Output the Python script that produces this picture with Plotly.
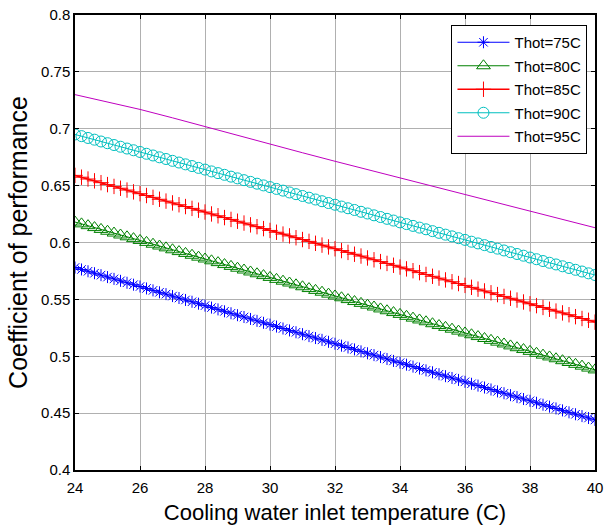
import plotly.graph_objects as go

# Cooling water inlet temperature (C)
x_temp = [24 + 0.2 * k for k in range(81)]
x_temp95 = [24, 25, 26, 27, 28, 29, 30, 31, 32, 33, 34, 35, 36, 37, 38, 39, 40]

cop_75 = [0.5780, 0.5763, 0.5747, 0.5730, 0.5713, 0.5696, 0.5680, 0.5663, 0.5646, 0.5629,
          0.5613, 0.5596, 0.5579, 0.5562, 0.5546, 0.5529, 0.5512, 0.5495, 0.5479, 0.5462,
          0.5445, 0.5428, 0.5412, 0.5395, 0.5378, 0.5361, 0.5345, 0.5328, 0.5311, 0.5294,
          0.5278, 0.5261, 0.5244, 0.5227, 0.5211, 0.5194, 0.5177, 0.5160, 0.5144, 0.5127,
          0.5110, 0.5093, 0.5077, 0.5060, 0.5043, 0.5026, 0.5010, 0.4993, 0.4976, 0.4959,
          0.4943, 0.4926, 0.4909, 0.4892, 0.4876, 0.4859, 0.4842, 0.4825, 0.4809, 0.4792,
          0.4775, 0.4758, 0.4742, 0.4725, 0.4708, 0.4691, 0.4675, 0.4658, 0.4641, 0.4624,
          0.4608, 0.4591, 0.4574, 0.4557, 0.4541, 0.4524, 0.4507, 0.4490, 0.4474, 0.4457,
          0.4440]

cop_80 = [0.6180, 0.6164, 0.6148, 0.6131, 0.6115, 0.6099, 0.6083, 0.6066, 0.6050, 0.6034,
          0.6018, 0.6001, 0.5985, 0.5969, 0.5953, 0.5936, 0.5920, 0.5904, 0.5888, 0.5871,
          0.5855, 0.5839, 0.5823, 0.5806, 0.5790, 0.5774, 0.5758, 0.5741, 0.5725, 0.5709,
          0.5693, 0.5676, 0.5660, 0.5644, 0.5628, 0.5611, 0.5595, 0.5579, 0.5563, 0.5546,
          0.5530, 0.5514, 0.5498, 0.5481, 0.5465, 0.5449, 0.5433, 0.5416, 0.5400, 0.5384,
          0.5368, 0.5351, 0.5335, 0.5319, 0.5303, 0.5286, 0.5270, 0.5254, 0.5238, 0.5221,
          0.5205, 0.5189, 0.5173, 0.5156, 0.5140, 0.5124, 0.5108, 0.5091, 0.5075, 0.5059,
          0.5043, 0.5026, 0.5010, 0.4994, 0.4978, 0.4961, 0.4945, 0.4929, 0.4913, 0.4896,
          0.4880]

cop_85 = [0.6590, 0.6574, 0.6558, 0.6542, 0.6526, 0.6509, 0.6493, 0.6477, 0.6461, 0.6445,
          0.6429, 0.6413, 0.6397, 0.6380, 0.6364, 0.6348, 0.6332, 0.6316, 0.6300, 0.6284,
          0.6268, 0.6251, 0.6235, 0.6219, 0.6203, 0.6187, 0.6171, 0.6155, 0.6139, 0.6122,
          0.6106, 0.6090, 0.6074, 0.6058, 0.6042, 0.6026, 0.6010, 0.5993, 0.5977, 0.5961,
          0.5945, 0.5929, 0.5913, 0.5897, 0.5881, 0.5864, 0.5848, 0.5832, 0.5816, 0.5800,
          0.5784, 0.5768, 0.5752, 0.5735, 0.5719, 0.5703, 0.5687, 0.5671, 0.5655, 0.5639,
          0.5623, 0.5606, 0.5590, 0.5574, 0.5558, 0.5542, 0.5526, 0.5510, 0.5494, 0.5477,
          0.5461, 0.5445, 0.5429, 0.5413, 0.5397, 0.5381, 0.5365, 0.5348, 0.5332, 0.5316,
          0.5300]

cop_90 = [0.6950, 0.6935, 0.6919, 0.6904, 0.6888, 0.6873, 0.6857, 0.6842, 0.6826, 0.6811,
          0.6796, 0.6780, 0.6765, 0.6749, 0.6734, 0.6718, 0.6703, 0.6687, 0.6672, 0.6656,
          0.6641, 0.6625, 0.6610, 0.6595, 0.6579, 0.6564, 0.6548, 0.6533, 0.6517, 0.6502,
          0.6487, 0.6471, 0.6456, 0.6440, 0.6425, 0.6409, 0.6394, 0.6378, 0.6363, 0.6347,
          0.6332, 0.6316, 0.6301, 0.6286, 0.6270, 0.6255, 0.6239, 0.6224, 0.6208, 0.6193,
          0.6177, 0.6162, 0.6146, 0.6131, 0.6116, 0.6100, 0.6085, 0.6069, 0.6054, 0.6038,
          0.6023, 0.6007, 0.5992, 0.5977, 0.5961, 0.5946, 0.5930, 0.5915, 0.5899, 0.5884,
          0.5868, 0.5853, 0.5837, 0.5822, 0.5807, 0.5791, 0.5776, 0.5760, 0.5745, 0.5729,
          0.5714]

cop_95 = [0.7300, 0.7236, 0.7170, 0.7096, 0.7018, 0.6942, 0.6864, 0.6789, 0.6714, 0.6641,
          0.6568, 0.6496, 0.6424, 0.6350, 0.6277, 0.6203, 0.6130]

series_names = ["Thot=75C", "Thot=80C", "Thot=85C", "Thot=90C", "Thot=95C"]
x_ticks = [24, 26, 28, 30, 32, 34, 36, 38, 40]
y_ticks = [0.4, 0.45, 0.5, 0.55, 0.6, 0.65, 0.7, 0.75, 0.8]

FONT = "Liberation Sans, Arial, sans-serif"

fig = go.Figure()

fig.add_trace(go.Scatter(
    x=x_temp, y=cop_75, name=series_names[0], mode="lines+markers", legendgroup="a",
    line=dict(color="#0000ff", width=1),
    marker=dict(symbol="asterisk-open", size=10, color="#0000ff", line=dict(color="#0000ff", width=1))))
fig.add_trace(go.Scatter(
    x=x_temp, y=cop_80, name=series_names[1], mode="lines+markers", legendgroup="b",
    line=dict(color="#008000", width=1),
    marker=dict(symbol="triangle-up-open", size=12, color="#008000", line=dict(color="#008000", width=1))))
fig.add_trace(go.Scatter(
    x=x_temp, y=cop_85, name=series_names[2], mode="lines+markers", legendgroup="c",
    line=dict(color="#ff0000", width=1.5),
    marker=dict(symbol="cross-thin-open", size=11, color="#ff0000", line=dict(color="#ff0000", width=1))))
fig.add_trace(go.Scatter(
    x=x_temp, y=cop_90, name=series_names[3], mode="lines+markers", legendgroup="d",
    line=dict(color="#00bfbf", width=1),
    marker=dict(symbol="circle-open", size=11, color="#00bfbf", line=dict(color="#00bfbf", width=1))))
fig.add_trace(go.Scatter(
    x=x_temp95, y=cop_95, name=series_names[4], mode="lines", legendgroup="e",
    line=dict(color="#bf00bf", width=1)))

axis_common = dict(
    showline=True, linecolor="black", linewidth=1.5, mirror="ticks",
    ticks="inside", ticklen=4, tickcolor="black", tickwidth=1,
    showgrid=True, gridcolor="#b0b0b0", gridwidth=1, zeroline=False,
    tickfont=dict(family=FONT, size=15, color="black"),
    automargin=False, ticklabeloverflow="allow",
)

fig.update_xaxes(range=[24, 40], tickvals=x_ticks, ticklabelstandoff=3,
                 title=dict(text="Cooling water inlet temperature (C)",
                            font=dict(family=FONT, size=22, color="black"), standoff=10),
                 **axis_common)
fig.update_yaxes(range=[0.4, 0.8], tickvals=y_ticks, ticktext=[f"{v:g}" for v in y_ticks],
                 title=dict(text="Coefficient of performance",
                            font=dict(family=FONT, size=25, color="black"), standoff=6),
                 **axis_common)

fig.update_layout(
    width=604, height=526,
    margin=dict(l=75, r=9, t=15, b=56),
    paper_bgcolor="white", plot_bgcolor="white",
    font=dict(family=FONT, size=15, color="black"),
    showlegend=True,
    legend=dict(x=0.724, y=0.978, xanchor="left", yanchor="top",
                bgcolor="white", bordercolor="black", borderwidth=1,
                font=dict(family=FONT, size=15, color="black"),
                tracegroupgap=1, itemwidth=52),
)

fig.write_html("out.html", config={"displayModeBar": False},
               post_script="document.body.style.margin='0';document.body.style.padding='0';")
